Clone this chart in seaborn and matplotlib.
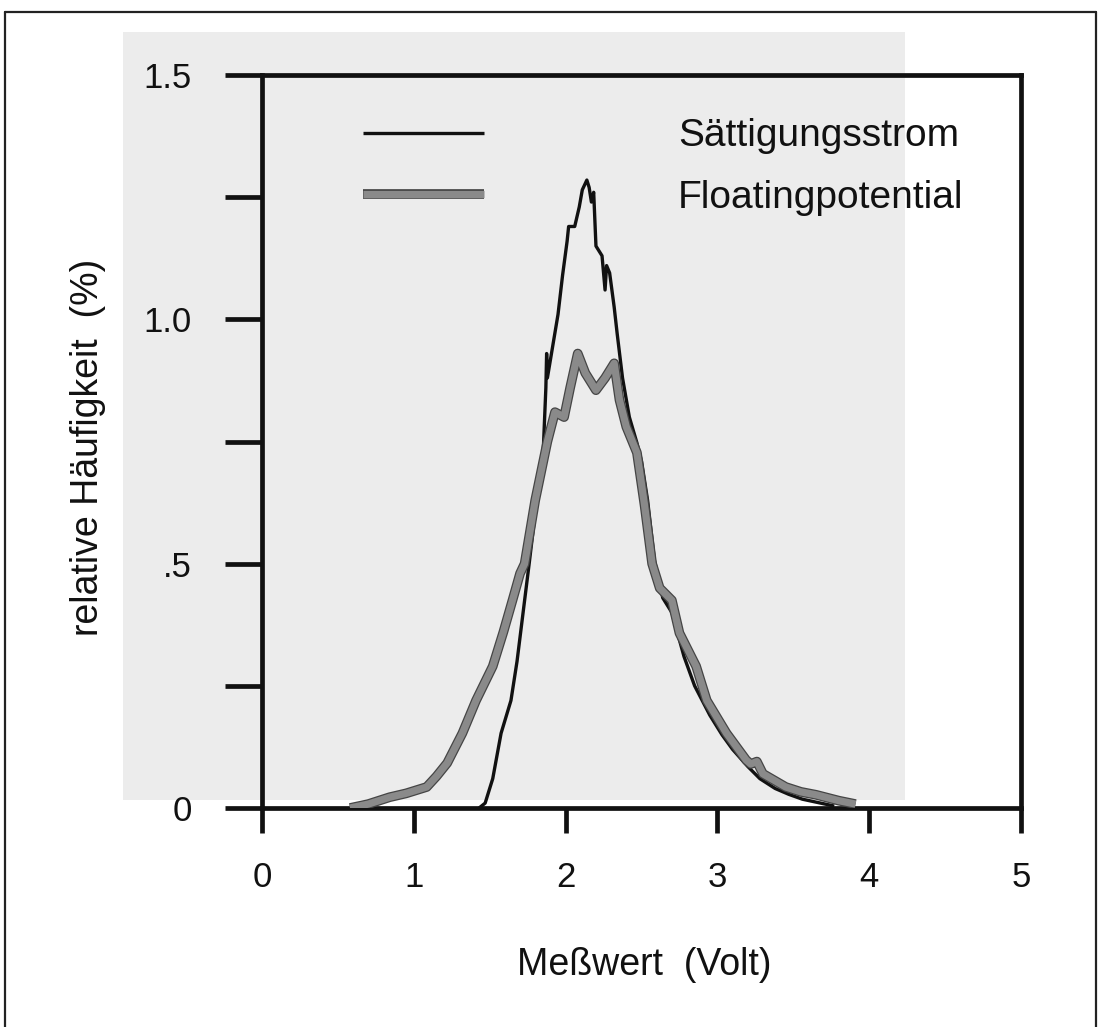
import matplotlib
matplotlib.use("Agg")
import matplotlib.pyplot as plt
import matplotlib.patheffects as pe
from matplotlib.patches import Rectangle
from matplotlib.lines import Line2D
import seaborn as sns
import pandas as pd

# ---- data ----
saett_x = [1.43, 1.47, 1.52, 1.575, 1.64, 1.68, 1.73, 1.76, 1.81, 1.85, 1.87, 1.875, 1.88,
           1.95, 1.98, 2.01, 2.02, 2.06, 2.09, 2.11, 2.14, 2.155, 2.17, 2.185, 2.20, 2.24,
           2.26, 2.27, 2.29, 2.32, 2.34, 2.375, 2.42, 2.47, 2.50, 2.54, 2.585, 2.64, 2.70,
           2.78, 2.85, 2.95, 3.03, 3.10, 3.20, 3.28, 3.38, 3.47, 3.56, 3.65, 3.77]
saett_y = [0.0, 0.01, 0.06, 0.153, 0.22, 0.30, 0.425, 0.50, 0.63, 0.71, 0.86, 0.93, 0.88,
           1.01, 1.09, 1.16, 1.19, 1.19, 1.23, 1.265, 1.285, 1.27, 1.24, 1.26, 1.15, 1.13,
           1.06, 1.11, 1.095, 1.025, 0.97, 0.88, 0.80, 0.747, 0.71, 0.63, 0.507, 0.43, 0.40,
           0.31, 0.25, 0.19, 0.15, 0.12, 0.085, 0.06, 0.04, 0.028, 0.018, 0.012, 0.004]

float_x = [0.58, 0.70, 0.84, 0.95, 1.085, 1.15, 1.22, 1.32, 1.41, 1.52, 1.59, 1.65, 1.70,
           1.73, 1.80, 1.88, 1.93, 1.99, 2.03, 2.08, 2.13, 2.20, 2.26, 2.32, 2.355, 2.40,
           2.47, 2.52, 2.57, 2.62, 2.70, 2.75, 2.86, 2.93, 3.06, 3.19, 3.22, 3.26, 3.30,
           3.45, 3.55, 3.65, 3.80, 3.91]
float_y = [0.0, 0.008, 0.022, 0.03, 0.043, 0.065, 0.092, 0.153, 0.22, 0.29, 0.36, 0.425, 0.48,
           0.50, 0.63, 0.75, 0.81, 0.80, 0.86, 0.93, 0.89, 0.855, 0.88, 0.91, 0.835, 0.78,
           0.727, 0.62, 0.50, 0.45, 0.425, 0.358, 0.29, 0.22, 0.153, 0.098, 0.09, 0.095, 0.07,
           0.043, 0.033, 0.027, 0.015, 0.008]

series_names = ["Sättigungsstrom", "Floatingpotential"]
x_ticks = [0, 1, 2, 3, 4, 5]
y_ticks = [0, 0.5, 1.0, 1.5]
y_ticklabels = ["0", ".5", "1.0", "1.5"]
y_minor = [0.25, 0.75, 1.25]

df_s = pd.DataFrame({"x": saett_x, "y": saett_y})
df_f = pd.DataFrame({"x": float_x, "y": float_y})

# ---- style ----
sns.set_theme(style="ticks")
plt.rcParams["font.family"] = ["Liberation Sans", "DejaVu Sans"]

W, H = 1100, 1027
fig = plt.figure(figsize=(W / 100, H / 100), dpi=100)
fig.patch.set_facecolor("white")

# scan-like grey page area and outer frame
fig.patches.append(Rectangle((123 / W, 1 - 800 / H), (905 - 123) / W, (800 - 32) / H,
                             transform=fig.transFigure, facecolor="#ececec",
                             edgecolor="none", zorder=-10))
for (x0, y0, x1, y1) in [(5, 12, 5, 1027), (5, 12, 1096, 12), (1096, 12, 1096, 1027)]:
    fig.lines.append(Line2D([x0 / W, x1 / W], [1 - y0 / H, 1 - y1 / H],
                            transform=fig.transFigure, color="#222", lw=1.6))

ax = fig.add_axes([262 / W, 1 - 808 / H, (1021 - 262) / W, (808 - 75) / H])
ax.set_facecolor("none")

sns.lineplot(data=df_s, x="x", y="y", ax=ax, estimator=None, sort=False,
             color="#111111", lw=2.4, label=series_names[0], zorder=3)
sns.lineplot(data=df_f, x="x", y="y", ax=ax, estimator=None, sort=False,
             color="#8a8a8a", lw=5.2, label=series_names[1], zorder=4)
lf = ax.lines[1]
lf.set_solid_capstyle("butt")
lf.set_path_effects([pe.Stroke(linewidth=7.0, foreground="#454545"), pe.Normal()])
ax.lines[0].set_solid_capstyle("butt")

ax.set_xlim(0, 5)
ax.set_ylim(0, 1.5)
ax.set_xticks(x_ticks)
ax.set_xticklabels([str(t) for t in x_ticks])
ax.set_yticks(y_ticks)
ax.set_yticklabels(y_ticklabels)
ax.set_yticks(y_minor, minor=True)

for s in ax.spines.values():
    s.set_linewidth(3.4)
    s.set_color("#111")
    s.set_visible(True)

ax.tick_params(axis="y", which="both", direction="out", length=26.5, width=3.4,
               color="#111", labelsize=25, pad=24, labelcolor="#111")
ax.tick_params(axis="x", which="both", direction="out", length=18, width=3.4,
               color="#111", labelsize=25, pad=20, labelcolor="#111")

ax.set_xlabel("Meßwert  (Volt)", fontsize=27, color="#111", va="center")
ax.xaxis.set_label_coords(0.504, (808 - 965) / 733)
ax.set_ylabel("relative Häufigkeit  (%)", fontsize=27, color="#111", va="center")
ax.yaxis.set_label_coords((88 - 262) / 760, (808 - 447) / 733)

leg = ax.legend(handles=ax.lines[:2], labels=series_names, loc="upper left",
                bbox_to_anchor=(0.133, 0.941), frameon=False, fontsize=28,
                handlelength=3.1, handletextpad=5.0, labelspacing=0.65,
                borderpad=0, borderaxespad=0)
for t in leg.get_texts():
    t.set_color("#111")

fig.savefig("out.png", dpi=100)
